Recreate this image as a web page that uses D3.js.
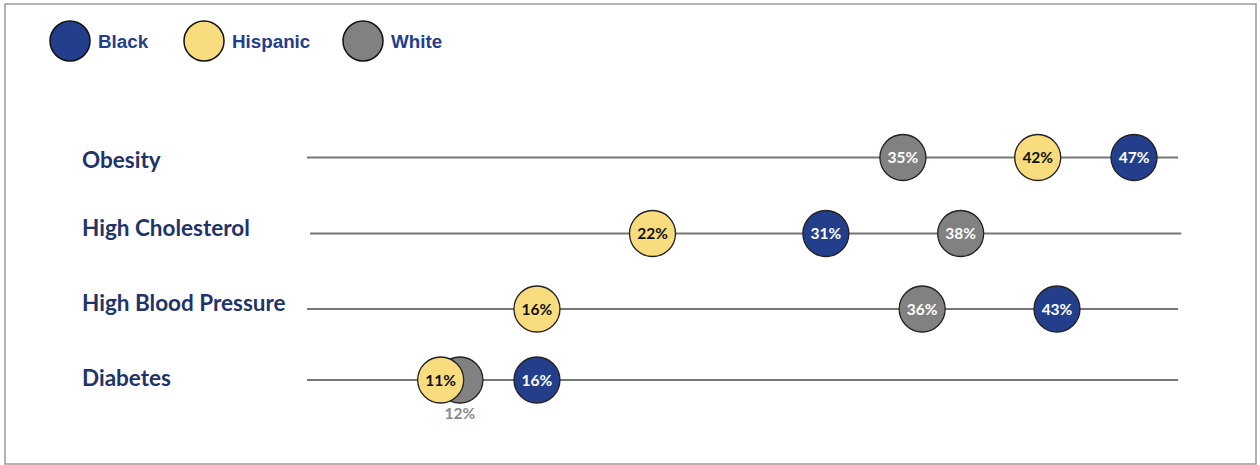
<!DOCTYPE html>
<html><head><meta charset="utf-8">
<script src="https://cdn.jsdelivr.net/npm/d3@7"></script>
<style>body{margin:0;background:#fff}svg{display:block}</style>
</head><body>
<script>
const categories = ["Obesity", "High Cholesterol", "High Blood Pressure", "Diabetes"];
const groups = ["Black", "Hispanic", "White"];
const black = [47, 31, 43, 16];
const hispanic = [42, 22, 16, 11];
const white = [35, 38, 36, 12];
const lineStart = [4.06, 4.22, 4.06, 4.06];
const lineEnd = [49.29, 49.45, 49.29, 49.29];

const colors = {Black: "#233f8c", Hispanic: "#f9dc7e", White: "#818181"};
const textColors = {Black: "#ffffff", Hispanic: "#111111", White: "#ffffff"};
const W = 1260, H = 465;
const svg = d3.select("body").append("svg").attr("width", W).attr("height", H);

// frame
svg.append("rect").attr("x", 5).attr("y", 4).attr("width", 1251).attr("height", 460)
  .attr("fill", "none").attr("stroke", "#9a9a9a").attr("stroke-width", 1.5);

const x = d3.scaleLinear().domain([0, 50]).range([228.8, 1191.8]);
const rowY = [157.5, 233.5, 309, 380];
const labelY = [168, 236, 311, 386];
const y = d3.scaleOrdinal().domain(categories).range(rowY);

// legend
const lg = svg.append("g");
const legendX = [70, 204, 363];
groups.forEach((g, i) => {
  lg.append("circle").attr("cx", legendX[i]).attr("cy", 41).attr("r", 20)
    .attr("fill", colors[g]).attr("stroke", "#111").attr("stroke-width", 1.5);
  lg.append("text").attr("x", legendX[i] + 28).attr("y", 47.5).text(g)
    .attr("font-family", "Liberation Sans, Arial, sans-serif").attr("font-weight", "bold")
    .attr("font-size", 18.8).attr("fill", "#243e8c");
});

// rows
categories.forEach((c, i) => {
  const yy = y(c);
  svg.append("text").attr("x", 82).attr("y", labelY[i]).text(c)
    .attr("font-family", "Lato, 'Open Sans', sans-serif").attr("font-weight", "bold")
    .attr("font-size", 22.5).attr("fill", "#1f3468");
  svg.append("line").attr("x1", x(lineStart[i])).attr("x2", x(lineEnd[i]))
    .attr("y1", yy).attr("y2", yy).attr("stroke", "#777").attr("stroke-width", 2);
  const pts = [
    {g: "White", v: white[i]},
    {g: "Hispanic", v: hispanic[i]},
    {g: "Black", v: black[i]}
  ];
  pts.forEach(p => {
    svg.append("circle").attr("cx", x(p.v)).attr("cy", yy).attr("r", 23)
      .attr("fill", colors[p.g]).attr("stroke", "#222").attr("stroke-width", 1.3);
  });
  pts.forEach(p => {
    const overlapped = (p.g === "White" && Math.abs(p.v - hispanic[i]) < 2);
    if (overlapped) {
      svg.append("text").attr("x", x(p.v)).attr("y", yy + 39).attr("text-anchor", "middle")
        .text(p.v + "%").attr("font-family", "Lato, 'Open Sans', sans-serif").attr("font-weight", "bold")
        .attr("font-size", 15.5).attr("fill", "#8a8a8a");
    } else {
      svg.append("text").attr("x", x(p.v)).attr("y", yy + 5.5).attr("text-anchor", "middle")
        .text(p.v + "%").attr("font-family", "Lato, 'Open Sans', sans-serif").attr("font-weight", "bold")
        .attr("font-size", 15.5).attr("fill", textColors[p.g]);
    }
  });
});
</script>
</body></html>
